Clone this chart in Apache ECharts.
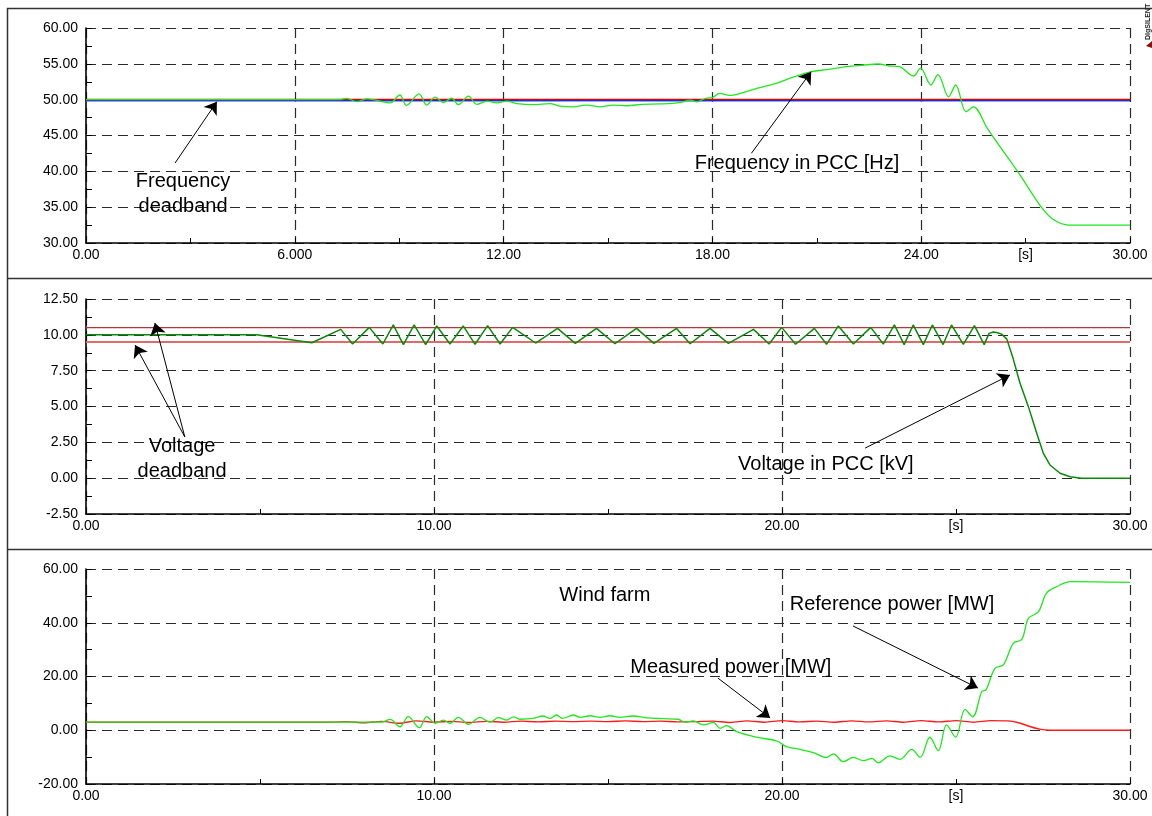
<!DOCTYPE html>
<html><head><meta charset="utf-8">
<script src="https://cdn.jsdelivr.net/npm/echarts@6/dist/echarts.min.js"></script>
<style>html,body{margin:0;padding:0;background:#fff}#c{width:1152px;height:816px}</style>
</head><body><div id="c"></div>
<script>
// ---------- Panel 1: frequency ----------
const freqPCC = [[0,50],[7.3,50],[7.49,50.19],[7.78,49.72],[8.07,50.1],[8.36,49.9],[8.74,49.55],[9.02,50.65],[9.21,49.2],[9.57,50.8],[9.79,49.25],[10.03,50.35],[10.27,49.6],[10.51,50.2],[10.7,49.3],[10.99,50.5],[11.23,49.35],[11.52,49.8],[11.8,49.55],[12.1,49.8],[12.38,49.45],[12.85,49.3],[13.33,49.45],[13.62,49.1],[14.0,49.0],[14.39,49.25],[14.77,49.0],[15.15,49.25],[15.53,49.15],[16.0,49.35],[16.48,49.4],[17.07,49.6],[17.36,49.95],[17.55,49.7],[17.8,50.19],[18.0,50.3],[18.21,50.89],[18.5,50.6],[18.82,50.9],[19.3,51.6],[19.83,52.28],[20.3,53.1],[20.84,53.9],[21.3,54.2],[21.85,54.6],[22.3,54.8],[22.76,54.98],[23.1,54.7],[23.37,54.6],[23.78,53.3],[23.98,54.4],[24.28,52.05],[24.48,53.5],[24.79,50.4],[24.99,52.05],[25.29,48.3],[25.5,49.0],[25.9,46.0],[26.3,43.2],[26.81,39.7],[27.21,36.7],[27.52,34.6],[27.82,33.2],[28.23,32.5],[30,32.5]];
const freqBandHigh = [[0,50.05],[30,50.05]];
const freqBandLow = [[0,49.9],[30,49.9]];
const xTickValues1 = [0,6,12,18,24,27,30];
const xTickLabels1 = ['0.00','6.000','12.00','18.00','24.00','[s]','30.00'];

// ---------- Panel 2: voltage ----------
const voltPCC = [[0,10],[4.9,10],[6.49,9.45],[7.32,10.38],[7.66,9.36],[8.14,10.52],[8.53,9.36],[8.83,10.69],[9.12,9.32],[9.43,10.69],[9.76,9.32],[10.08,10.62],[10.46,9.36],[10.84,10.62],[11.18,9.34],[11.54,10.64],[11.9,9.36],[12.26,10.52],[12.92,9.43],[13.55,10.45],[14.06,9.4],[14.67,10.45],[15.2,9.38],[15.82,10.45],[16.32,9.4],[16.97,10.45],[17.36,9.38],[17.93,10.45],[18.46,9.4],[19.18,10.38],[19.63,9.36],[19.99,10.52],[20.39,9.34],[20.93,10.45],[21.28,9.34],[21.62,10.62],[22.05,9.36],[22.55,10.52],[22.91,9.36],[23.23,10.69],[23.51,9.32],[23.77,10.69],[24.06,9.32],[24.32,10.69],[24.63,9.32],[24.87,10.69],[25.21,9.34],[25.53,10.64],[25.81,9.32],[25.95,10.1],[26.07,10.2],[26.2,10.15],[26.31,10.05],[26.46,9.7],[26.64,8.36],[26.84,6.62],[27.08,4.99],[27.32,3.13],[27.51,1.73],[27.7,0.92],[27.99,0.34],[28.28,0.1],[28.6,0],[30,0]];
const voltBandHigh = [[0,10.5],[30,10.5]];
const voltBandLow = [[0,9.5],[30,9.5]];
const xTickValues2 = [0,10,20,25,30];
const xTickLabels2 = ['0.00','10.00','20.00','[s]','30.00'];

// ---------- Panel 3: power ----------
const refPower = [[0,3],[8.5,3],[8.74,4.07],[9.02,1.3],[9.26,5.04],[9.58,0.95],[9.79,5.04],[10.03,2.6],[10.27,3.8],[10.46,2.6],[10.7,4.8],[10.99,2.2],[11.32,4.8],[11.61,3.0],[11.85,4.7],[12.09,3.8],[12.28,5.0],[12.47,4.1],[12.85,4.4],[13.14,5.3],[13.33,4.4],[13.52,5.67],[13.7,4.4],[14.0,5.67],[14.2,4.8],[14.48,5.4],[14.77,4.8],[15.06,5.4],[15.34,4.8],[15.73,5.3],[16.1,4.6],[16.59,4.3],[17.02,4.1],[17.21,3.0],[17.45,3.5],[17.74,2.0],[18.03,2.9],[18.22,0.7],[18.41,1.7],[18.7,-0.5],[19.27,-2.6],[19.85,-4.0],[20.13,-6.1],[20.52,-7.1],[20.9,-8.3],[21.28,-10.1],[21.48,-8.8],[21.76,-11.7],[22.05,-10.1],[22.34,-11.3],[22.58,-10.5],[22.77,-12.1],[23.1,-9.5],[23.39,-10.8],[23.73,-7.1],[23.97,-10.1],[24.25,-2.6],[24.49,-7.6],[24.73,2.0],[24.99,-2.6],[25.26,7.8],[25.48,5.0],[25.74,14.4],[25.86,15.0],[26.12,23.0],[26.36,24.3],[26.65,32.4],[26.89,33.8],[27.08,41.6],[27.37,44.1],[27.6,51.0],[27.89,53.4],[28.28,55.3],[30,55.0]];
const measPower = [[0,3],[7,3],[7.5,3.2],[8,2.8],[8.5,3.3],[9,2.6],[9.5,3.5],[10,3.0],[10.5,3.3],[11,2.9],[11.5,3.3],[12,3.0],[12.5,3.4],[13,3.1],[13.5,3.4],[14,3.2],[14.5,3.4],[15,3.2],[15.5,3.5],[16,3.2],[16.5,3.4],[17,3.1],[17.5,3.2],[18,3.4],[18.5,2.9],[19,3.5],[19.5,3.0],[20,3.6],[20.5,3.1],[21,3.4],[21.5,3.0],[22,3.5],[22.5,3.1],[23,3.5],[23.5,3.0],[24,3.6],[24.5,3.1],[25,3.6],[25.5,3.0],[26,3.6],[26.5,3.5],[26.8,2.8],[27.1,1.5],[27.4,0.4],[27.7,0],[30,0]];

// ---------- Annotations (data coordinates) ----------
const notes1 = [[2.79,36.77,'Frequency\ndeadband'],[20.43,41.12,'Frequency in PCC [Hz]']];
const arrows1 = [[[2.56,41.16],[3.76,49.72]],[[19.12,42.52],[20.84,53.9]]];
const notes2 = [[2.76,1.32,'Voltage\ndeadband'],[21.26,0.92,'Voltage in PCC [kV]']];
const arrows2 = [[[2.84,2.87],[1.98,10.83]],[[2.84,2.87],[1.41,9.29]],[[22.39,2.1],[26.55,7.2]]];
const notes3 = [[14.91,50.3,'Wind farm'],[23.16,46.98,'Reference power [MW]'],[18.53,23.5,'Measured power [MW]']];
const arrows3 = [[[22.04,38.8],[25.63,15.7]],[[18.16,19.4],[19.66,4.56]]];

const FONT = 'Liberation Sans, Arial, sans-serif';
const chart = echarts.init(document.getElementById('c'), null, {renderer:'canvas'});
const gridTops = [28, 299, 569];
const grids = gridTops.map(t => ({left:86, right:22, top:t, height:215, containLabel:false}));

const dash = {color:'#2a2a2a', width:1.2, type:[10,6]};
function tickAxis(gi, interval, vals, labs){
  return {type:'value', gridIndex:gi, min:0, max:30, interval:interval, position:'bottom',
    axisLine:{show:true, onZero:false, lineStyle:{color:'#000', width:1.6}},
    axisTick:{show:true, inside:true, length:5, lineStyle:{color:'#000', width:1}},
    splitLine:{show:false},
    axisLabel:{show:true, margin:5, fontSize:14, color:'#000', fontFamily:FONT, showMinLabel:true, showMaxLabel:true,
      formatter:function(v){const i = vals.indexOf(Math.round(v*1000)/1000); return i>=0 ? labs[i] : '';}}};
}
function gridAxis(gi, interval){
  return {type:'value', gridIndex:gi, min:0, max:30, interval:interval, position:'top',
    axisLine:{show:false}, axisTick:{show:false}, axisLabel:{show:false},
    splitLine:{show:true, lineStyle:dash}};
}
function yAx(gi, min, max, interval){
  return {type:'value', gridIndex:gi, min:min, max:max, interval:interval,
    axisLine:{show:true, onZero:false, lineStyle:{color:'#000', width:1.6}},
    axisTick:{show:true, inside:true, length:6, lineStyle:{color:'#000'}},
    minorTick:{show:true, splitNumber:2, length:6, lineStyle:{color:'#000'}},
    splitLine:{show:true, lineStyle:dash},
    axisLabel:{margin:8, fontSize:14, color:'#000', fontFamily:FONT, formatter:v => v.toFixed(2)}};
}
function lineS(xi, yi, data, color, width, smooth, extra){
  return Object.assign({type:'line', xAxisIndex:xi, yAxisIndex:yi, data:data, showSymbol:false, symbol:'none',
    smooth:smooth, lineStyle:{color:color, width:width}, animation:false, silent:true}, extra||{});
}
function arrowMark(arrs){
  return {silent:true, animation:false, symbol:['none','arrow'], symbolSize:12,
    itemStyle:{color:'#000'},
    label:{show:false}, lineStyle:{color:'#000', width:1, type:'solid', opacity:1},
    emphasis:{disabled:true},
    data: arrs.map(a => [{coord:a[0]}, {coord:a[1]}])};
}
function noteS(xi, yi, notes){
  return {type:'scatter', xAxisIndex:xi, yAxisIndex:yi, symbolSize:1, itemStyle:{color:'transparent'},
    data: notes.map(n => ({value:[n[0], n[1]], name:n[2]})), animation:false, silent:true, z:10,
    label:{show:true, position:'inside', formatter:p => p.name, fontSize:20, lineHeight:25,
      color:'#000', textBorderWidth:0, opacity:1, fontFamily:FONT, align:'center', verticalAlign:'middle'}};
}

const option = {
  backgroundColor:'#fff',
  grid: grids,
  xAxis: [tickAxis(0,3,xTickValues1,xTickLabels1), gridAxis(0,6),
          tickAxis(1,5,xTickValues2,xTickLabels2), gridAxis(1,10),
          tickAxis(2,5,xTickValues2,xTickLabels2), gridAxis(2,10)],
  yAxis: [yAx(0,30,60,5), yAx(1,-2.5,12.5,2.5), yAx(2,-20,60,20)],
  series: [
    lineS(0,0,freqBandLow,'rgba(110,110,255,0.7)',3,false),
    lineS(0,0,freqBandLow,'#1020b0',1,false),
    lineS(0,0,freqBandHigh,'#e00000',1.3,false, {markLine: arrowMark(arrows1)}),
    lineS(0,0,freqPCC,'#1ee81e',1.3,0.35),
    noteS(0,0,notes1),

    lineS(2,1,voltBandLow,'#e26a6a',2,false),
    lineS(2,1,voltBandHigh,'#b03a3a',1.2,false, {markLine: arrowMark(arrows2)}),
    lineS(2,1,voltPCC,'#0a8a0a',1.5,false),
    noteS(2,1,notes2),

    lineS(4,2,measPower,'#ff1a1a',1.4,0.3, {markLine: arrowMark(arrows3)}),
    lineS(4,2,refPower,'#1ee81e',1.3,0.35),
    noteS(4,2,notes3)
  ],
  graphic: [
    {type:'rect', shape:{x:7.5, y:8.5, width:1160, height:820}, style:{fill:null, stroke:'#333', lineWidth:1.5}, silent:true},
    {type:'line', shape:{x1:7, y1:278.5, x2:1152, y2:278.5}, style:{stroke:'#333', lineWidth:1.5}, silent:true},
    {type:'line', shape:{x1:7, y1:549.5, x2:1152, y2:549.5}, style:{stroke:'#333', lineWidth:1.5}, silent:true},
    {type:'text', x:1145, y:40, rotation:Math.PI/2, style:{text:'DIgSILENT', font:'bold 7px '+FONT, fill:'#222', textAlign:'left', textVerticalAlign:'top'}, silent:true},
    {type:'polygon', shape:{points:[[1152,41],[1146,46],[1152,48]]}, style:{fill:'#8b1010'}, silent:true}
  ]
};
chart.setOption(option);
</script>
</body></html>
